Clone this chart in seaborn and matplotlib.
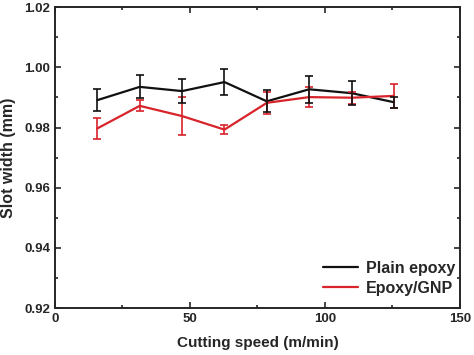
import numpy as np
import pandas as pd
import matplotlib
matplotlib.use("Agg")
import matplotlib.pyplot as plt
import seaborn as sns
from matplotlib.ticker import MultipleLocator

# data
speed = [15.7, 31.4, 47.1, 62.8, 78.5, 94.2, 110.0, 125.6]
plain = [0.9891, 0.9935, 0.9921, 0.9951, 0.9887, 0.9927, 0.9914, 0.9884]
plain_err = [0.0036, 0.0038, 0.0040, 0.0042, 0.0036, 0.0044, 0.0040, 0.0018]
gnp = [0.9797, 0.9872, 0.9838, 0.9793, 0.9882, 0.9901, 0.9899, 0.9905]
gnp_err = [0.0035, 0.0018, 0.0062, 0.0016, 0.0037, 0.0032, 0.0020, 0.0039]

df = pd.DataFrame({
    "speed": speed * 2,
    "width": plain + gnp,
    "err": plain_err + gnp_err,
    "series": ["Plain epoxy"] * len(speed) + ["Epoxy/GNP"] * len(speed),
})
colors = {"Plain epoxy": "#111111", "Epoxy/GNP": "#d8232a"}

sns.set_style("ticks")
plt.rcParams["font.family"] = ["Liberation Sans", "DejaVu Sans"]
plt.rcParams["font.weight"] = "bold"

fig = plt.figure(figsize=(4.74, 3.55), dpi=100)
ax = fig.add_axes([0.116, 0.132, 0.854, 0.848])

sns.lineplot(data=df, x="speed", y="width", hue="series", palette=colors,
             linewidth=1.6, ax=ax)
for name, g in df.groupby("series"):
    ax.errorbar(g["speed"], g["width"], yerr=g["err"], fmt="none",
                ecolor=colors[name], elinewidth=1.2, capsize=3, capthick=1.2)

ax.set_xlim(0, 150)
ax.set_ylim(0.92, 1.02)
ax.xaxis.set_major_locator(MultipleLocator(50))
ax.xaxis.set_minor_locator(MultipleLocator(25))
ax.yaxis.set_major_locator(MultipleLocator(0.02))
ax.yaxis.set_minor_locator(MultipleLocator(0.01))
ax.yaxis.set_major_formatter(plt.FormatStrFormatter("%.2f"))
ax.tick_params(which="both", direction="in", top=True, right=True, width=1.2)
ax.tick_params(which="major", length=4, labelsize=9.5)
ax.tick_params(which="minor", length=2.5)
for s in ax.spines.values():
    s.set_linewidth(1.4)

ax.set_xlabel("Cutting speed (m/min)", fontsize=11, fontweight="bold", labelpad=8)
ax.set_ylabel("Slot width (mm)", fontsize=11.5, fontweight="bold", labelpad=6)

leg = ax.legend(loc="lower right", bbox_to_anchor=(1.0, 0.025), frameon=False,
                fontsize=11.5, handlelength=2.2, handletextpad=0.5,
                borderaxespad=0.1, borderpad=0.2, labelspacing=0.3)
for t in leg.get_texts():
    t.set_fontweight("bold")

fig.savefig("out.png", dpi=100)
